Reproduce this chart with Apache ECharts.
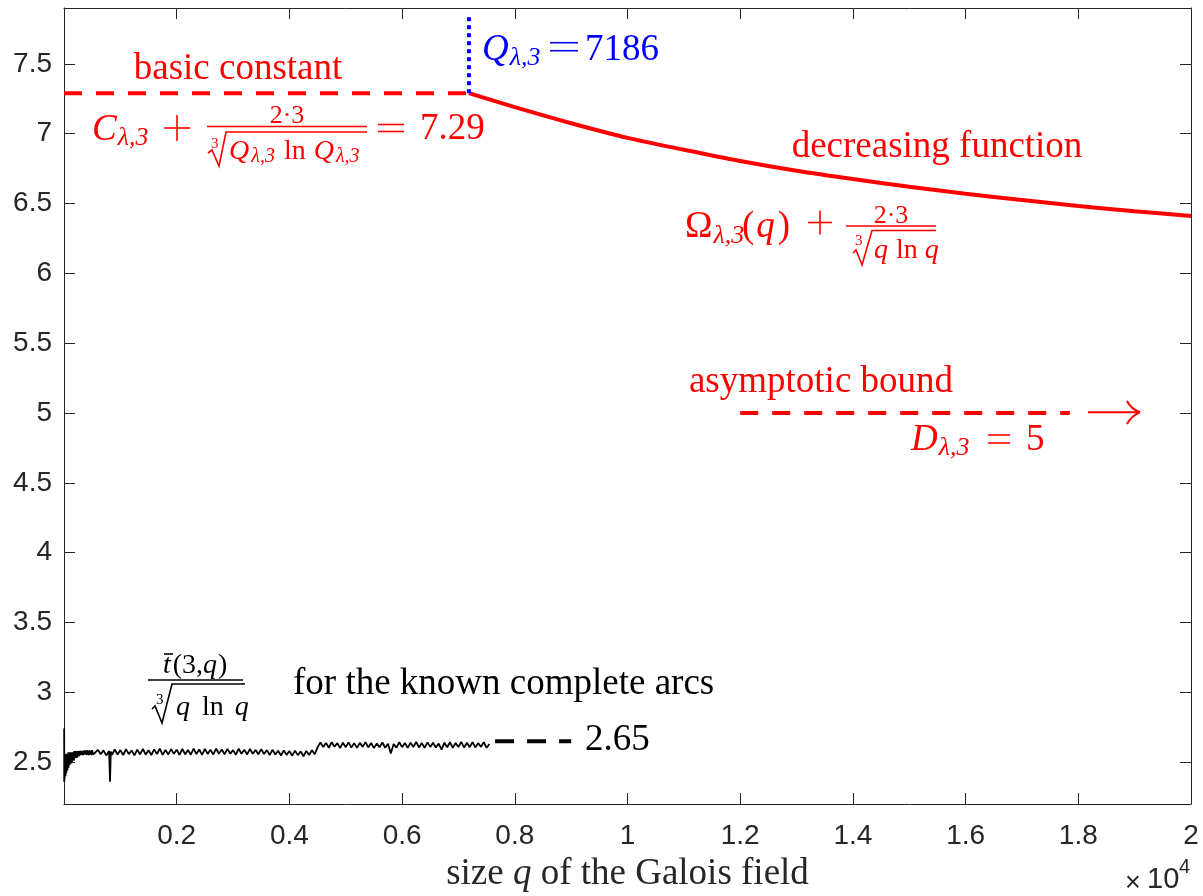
<!DOCTYPE html>
<html>
<head>
<meta charset="utf-8">
<script src="https://cdn.jsdelivr.net/npm/echarts@6/dist/echarts.min.js"></script>
<style>
html, body { margin: 0; padding: 0; background: #fff; }
#main { width: 1203px; height: 896px; }
</style>
</head>
<body>
<div id="main"></div>
<script>
// tick positions (x shown in units of 10^4)
var xTicks = [2000, 4000, 6000, 8000, 10000, 12000, 14000, 16000, 18000, 20000];
var yTicks = [2.5, 3, 3.5, 4, 4.5, 5, 5.5, 6, 6.5, 7, 7.5];

// decreasing function Omega(q) + 2*3/cbrt(q ln q)
var omegaQ = [7186, 8000, 9000, 10000, 11000, 12000, 13000, 14000, 15000, 16000, 17000, 18000, 19000, 20000];
var omegaVal = [7.29, 7.19, 7.075, 6.97, 6.885, 6.805, 6.735, 6.675, 6.62, 6.57, 6.525, 6.482, 6.445, 6.41];

// straight guide lines
var basicQ = [0, 7186];
var basicVal = [7.29, 7.29];
var qLamQ = [7186, 7186];
var qLamVal = [7.29, 7.85];
var asymQ = [12000, 17850];
var asymVal = [5, 5];
var limQ = [7650, 9000];
var limVal = [2.65, 2.65];

// t(3,q)/cbrt(q ln q) for the known complete arcs
var arcData = [
  [3, 2.74], [4, 2.36], [5, 2.55], [7, 2.37], [8, 2.53], [9, 2.38], [11, 2.55], [13, 2.39], [16, 2.54], [17, 2.40],
  [19, 2.56], [23, 2.41], [25, 2.54], [27, 2.40], [29, 2.56], [32, 2.43], [37, 2.55], [41, 2.42], [43, 2.56], [47, 2.44],
  [49, 2.55], [53, 2.45], [59, 2.56], [61, 2.44], [64, 2.55], [67, 2.46], [71, 2.56], [73, 2.47], [79, 2.57], [81, 2.46],
  [83, 2.55], [89, 2.48], [97, 2.57], [101, 2.48], [103, 2.56], [107, 2.49], [109, 2.57], [113, 2.50], [121, 2.56], [125, 2.49],
  [127, 2.57], [131, 2.51], [137, 2.57], [139, 2.50], [149, 2.56], [151, 2.51], [157, 2.57], [163, 2.52], [169, 2.57], [173, 2.51],
  [179, 2.58], [181, 2.52], [191, 2.57], [193, 2.53], [199, 2.58], [211, 2.53], [223, 2.57], [227, 2.53], [233, 2.58], [239, 2.54],
  [241, 2.57], [251, 2.54], [256, 2.58], [263, 2.54], [271, 2.58], [277, 2.55], [283, 2.58], [293, 2.55], [307, 2.58], [313, 2.55],
  [331, 2.58], [343, 2.55], [349, 2.58], [359, 2.555], [367, 2.585], [379, 2.555], [389, 2.58], [401, 2.55], [409, 2.585], [421, 2.555],
  [431, 2.58], [443, 2.55], [449, 2.585], [461, 2.555], [467, 2.58], [487, 2.55], [499, 2.585], [521, 2.555],
  [550, 2.552], [600, 2.588], [650, 2.556], [700, 2.584], [750, 2.548], [800, 2.580], [817, 2.36], [830, 2.575], [850, 2.552],
  [900, 2.590], [950, 2.554], [1000, 2.586], [1050, 2.550], [1100, 2.592], [1150, 2.557], [1200, 2.583], [1250, 2.549], [1300, 2.589],
  [1350, 2.555], [1400, 2.594], [1450, 2.553], [1500, 2.585], [1550, 2.551], [1600, 2.591], [1650, 2.558], [1700, 2.596], [1750, 2.552],
  [1800, 2.587], [1850, 2.555], [1900, 2.593], [1950, 2.559], [2000, 2.589], [2050, 2.551], [2100, 2.595], [2150, 2.556], [2200, 2.587],
  [2250, 2.553], [2300, 2.596], [2350, 2.558], [2400, 2.590], [2450, 2.552], [2500, 2.594], [2550, 2.559], [2600, 2.588], [2650, 2.555],
  [2700, 2.597], [2750, 2.560], [2800, 2.590], [2850, 2.556], [2900, 2.595], [2950, 2.561], [3000, 2.586], [3050, 2.553], [3100, 2.596],
  [3150, 2.559], [3200, 2.589], [3250, 2.555], [3300, 2.594], [3350, 2.560], [3400, 2.587], [3450, 2.556], [3500, 2.593], [3550, 2.558],
  [3600, 2.586], [3650, 2.551], [3700, 2.588], [3750, 2.554], [3800, 2.581], [3850, 2.547], [3900, 2.584], [3950, 2.552], [4000, 2.579],
  [4050, 2.546], [4100, 2.582], [4150, 2.550], [4200, 2.576], [4250, 2.542], [4300, 2.580], [4350, 2.551], [4400, 2.585], [4450, 2.556],
  [4500, 2.606], [4550, 2.640], [4600, 2.608], [4650, 2.637], [4700, 2.603], [4750, 2.642], [4800, 2.610], [4850, 2.636], [4900, 2.601],
  [4950, 2.639], [5000, 2.607], [5050, 2.641], [5100, 2.604], [5150, 2.636], [5200, 2.602], [5250, 2.638], [5300, 2.609], [5350, 2.643],
  [5400, 2.605], [5450, 2.637], [5500, 2.600], [5550, 2.634], [5600, 2.606], [5650, 2.640], [5700, 2.603], [5750, 2.632], [5800, 2.562],
  [5850, 2.629], [5900, 2.604], [5950, 2.642], [6000, 2.607], [6050, 2.637], [6100, 2.602], [6150, 2.639], [6200, 2.608], [6250, 2.644],
  [6300, 2.605], [6350, 2.636], [6400, 2.603], [6450, 2.641], [6500, 2.609], [6550, 2.638], [6600, 2.604], [6650, 2.633], [6700, 2.590],
  [6750, 2.639], [6800, 2.606], [6850, 2.642], [6900, 2.602], [6950, 2.637], [7000, 2.608], [7050, 2.645], [7100, 2.604], [7150, 2.639],
  [7200, 2.607], [7250, 2.643], [7300, 2.605], [7350, 2.636], [7400, 2.609], [7450, 2.642], [7500, 2.603], [7550, 2.630]
];

var RED = '#ff0000', BLUE = '#0000ff', BLACK = '#000000', AX = '#262626';
var SERIF = '"Liberation Serif", "DejaVu Serif", serif';
var SANS = '"Liberation Sans", Arial, sans-serif';

function zip(xs, ys) {
    return xs.map(function (x, i) { return [x, ys[i]]; });
}

// ---- little helpers to typeset the LaTeX-like annotations ----
var ctx = document.createElement('canvas').getContext('2d');
function fontOf(p) { return (p.i ? 'italic ' : '') + p.s + 'px ' + SERIF; }
// a row of text pieces on a common baseline; sp = extra space before a piece
function mrow(x, base, color, parts) {
    var els = [];
    parts.forEach(function (p) {
        x += p.sp || 0;
        ctx.font = fontOf(p);
        els.push({
            type: 'text', x: x, y: base + (p.dy || 0) - 0.2 * p.s, silent: true,
            style: { text: p.t, font: fontOf(p), fill: color, align: 'left', verticalAlign: 'middle' }
        });
        x += ctx.measureText(p.t).width;
    });
    return els;
}
function ctext(cx, base, color, txt, size, italic) {
    return {
        type: 'text', x: cx, y: base - 0.2 * size, silent: true,
        style: { text: txt, font: fontOf({ s: size, i: italic }), fill: color, align: 'center', verticalAlign: 'middle' }
    };
}
function seg(x1, y1, x2, y2, color, w) {
    return { type: 'line', silent: true, shape: { x1: x1, y1: y1, x2: x2, y2: y2 }, style: { stroke: color, lineWidth: w || 1.6 } };
}
function plus(cx, cy, h, color) {
    return [seg(cx - h, cy, cx + h, cy, color), seg(cx, cy - h, cx, cy + h, color)];
}
function equals(x1, x2, ya, yb, color) {
    return [seg(x1, ya, x2, ya, color), seg(x1, yb, x2, yb, color)];
}
function radical(pts, color) {
    return { type: 'polyline', silent: true, shape: { points: pts }, style: { stroke: color, fill: null, lineWidth: 1.6 } };
}

var g = [];
function add(a) { g = g.concat(a); }

// basic constant block
add(ctext(238, 77, RED, 'basic constant', 37));
add(mrow(92, 138, RED, [{ t: 'C', s: 37, i: true }, { t: 'λ,3', s: 26, i: true, dy: 5, sp: 1 }]));
add(plus(177, 128, 13, RED));
add(seg(207, 126.5, 367, 126.5, RED, 1.6));
add(ctext(287, 121, RED, '2·3', 26));
add(radical([[208, 153], [212, 150], [219, 166], [226, 132], [367, 132]], RED));
add(mrow(211, 147, RED, [{ t: '3', s: 15 }]));
add(mrow(229, 157, RED, [{ t: 'Q', s: 28, i: true }, { t: 'λ,3', s: 20, i: true, dy: 4, sp: 2 },
    { t: 'ln', s: 28, sp: 9 }, { t: 'Q', s: 28, i: true, sp: 8 }, { t: 'λ,3', s: 20, i: true, dy: 4, sp: 2 }]));
add(equals(378, 404, 124.5, 131.5, RED));
add(mrow(420, 137, RED, [{ t: '7.29', s: 37 }]));

// Q_{lambda,3} = 7186
add(mrow(482, 58, BLUE, [{ t: 'Q', s: 37, i: true }, { t: 'λ,3', s: 26, i: true, dy: 5, sp: 1 }]));
add(equals(550, 578, 42.7, 50.7, BLUE));
add(mrow(585, 58, BLUE, [{ t: '7186', s: 37 }]));

// decreasing function block
add(ctext(937, 155, RED, 'decreasing function', 37));
add(mrow(685, 235, RED, [{ t: 'Ω', s: 37 }, { t: 'λ,3', s: 26, i: true, dy: 6, sp: 1 }]));
add(mrow(742, 235, RED, [{ t: '(', s: 37 }, { t: 'q', s: 37, i: true, sp: 2 }, { t: ')', s: 37, sp: 3 }]));
add(plus(820, 222.5, 12, RED));
add(seg(846, 226, 936, 226, RED, 1.6));
add(ctext(891, 221, RED, '2·3', 26));
add(radical([[853, 253], [856, 250], [862, 265], [872, 230.5], [936, 230.5]], RED));
add(mrow(855, 244, RED, [{ t: '3', s: 15 }]));
add(mrow(874, 256, RED, [{ t: 'q', s: 28, i: true }, { t: 'ln', s: 28, sp: 8 }, { t: 'q', s: 28, i: true, sp: 7 }]));

// asymptotic bound block
add(ctext(821, 390, RED, 'asymptotic bound', 37));
add(seg(1088, 412.3, 1138, 412.3, RED, 2));
add({ type: 'bezierCurve', silent: true, shape: { x1: 1127, y1: 401, cpx1: 1131, cpy1: 409, x2: 1140, y2: 412.3 }, style: { stroke: RED, fill: null, lineWidth: 2 } });
add({ type: 'bezierCurve', silent: true, shape: { x1: 1127, y1: 424, cpx1: 1131, cpy1: 416, x2: 1140, y2: 412.3 }, style: { stroke: RED, fill: null, lineWidth: 2 } });
add(mrow(911, 448, RED, [{ t: 'D', s: 37, i: true }, { t: 'λ,3', s: 26, i: true, dy: 5, sp: 1 }]));
add(equals(988, 1010, 435, 443, RED));
add(mrow(1026, 448, RED, [{ t: '5', s: 37 }]));

// known complete arcs block
add(mrow(163, 671, BLACK, [{ t: 't', s: 28, i: true }, { t: '(3,', s: 28, sp: 2 }, { t: 'q', s: 28, i: true }, { t: ')', s: 28, sp: 1 }]));
add(seg(164, 654, 173, 654, BLACK, 1.6));
add(seg(148, 680, 243, 680, BLACK, 1.6));
add(radical([[152, 709], [155, 706], [162, 723], [172, 684], [245, 684]], BLACK));
add(mrow(156, 703, BLACK, [{ t: '3', s: 15 }]));
add(mrow(176, 713, BLACK, [{ t: 'q', s: 28, i: true }, { t: 'ln', s: 28, sp: 12 }, { t: 'q', s: 28, i: true, sp: 11 }]));
add(mrow(293, 692, BLACK, [{ t: 'for the known complete arcs', s: 37 }]));
add(mrow(585, 748, BLACK, [{ t: '2.65', s: 37 }]));

// x10^4 exponent marker
g.push({ type: 'text', x: 1125, y: 884, silent: true, style: { text: '×', font: '27px ' + SANS, fill: AX, verticalAlign: 'middle' } });
g.push({ type: 'text', x: 1147, y: 880, silent: true, style: { text: '10', font: '29px ' + SANS, fill: AX, verticalAlign: 'middle' } });
g.push({ type: 'text', x: 1179, y: 867, silent: true, style: { text: '4', font: '20px ' + SANS, fill: AX, verticalAlign: 'middle' } });

var dom = document.getElementById('main');
var myChart = echarts.init(dom, null, { renderer: 'canvas' });
var option = null;

option = {
    animation: false,
    backgroundColor: '#ffffff',
    grid: { left: 64, right: 12, top: 8, bottom: 92, containLabel: false, outerBoundsMode: 'none' },
    xAxis: [{
        type: 'value', min: 0, max: 20000,
        name: '{a|size }{b|q}{a| of the Galois field}',
        nameLocation: 'middle', nameGap: 52,
        nameTextStyle: {
            rich: {
                a: { fontFamily: SERIF, fontSize: 37, color: AX },
                b: { fontFamily: SERIF, fontSize: 37, fontStyle: 'italic', color: AX }
            }
        },
        axisLine: { show: true, onZero: false, lineStyle: { color: AX, width: 1 } },
        axisTick: { inside: true, length: 11, customValues: xTicks, lineStyle: { color: AX } },
        axisLabel: {
            customValues: xTicks, margin: 18, color: AX, fontFamily: SANS, fontSize: 28,
            formatter: function (v) { return String(v / 10000); }
        },
        splitLine: { show: false }
    }, {
        type: 'value', min: 0, max: 20000, position: 'top',
        axisLine: { show: true, onZero: false, lineStyle: { color: AX, width: 1 } },
        axisTick: { inside: true, length: 11, customValues: xTicks, lineStyle: { color: AX } },
        axisLabel: { show: false },
        splitLine: { show: false }
    }],
    yAxis: [{
        type: 'value', min: 2.2, max: 7.9,
        axisLine: { show: true, onZero: false, lineStyle: { color: AX, width: 1 } },
        axisTick: { inside: true, length: 11, customValues: yTicks, lineStyle: { color: AX } },
        axisLabel: { customValues: yTicks, margin: 12, padding: [8, 0, 0, 0], color: AX, fontFamily: SANS, fontSize: 28 },
        splitLine: { show: false }
    }, {
        type: 'value', min: 2.2, max: 7.9, position: 'right',
        axisLine: { show: true, onZero: false, lineStyle: { color: AX, width: 1 } },
        axisTick: { inside: true, length: 11, customValues: yTicks, lineStyle: { color: AX } },
        axisLabel: { show: false },
        splitLine: { show: false }
    }],
    series: [
        {
            name: 'arcs', type: 'line', data: arcData, showSymbol: false,
            lineStyle: { color: BLACK, width: 1.8 }
        },
        {
            name: 'limit', type: 'line', data: zip(limQ, limVal), showSymbol: false,
            lineStyle: { color: BLACK, width: 4, type: [19, 13] }
        },
        {
            name: 'basic', type: 'line', data: zip(basicQ, basicVal), showSymbol: false,
            lineStyle: { color: RED, width: 4, type: [18, 14] }
        },
        {
            name: 'omega', type: 'line', data: zip(omegaQ, omegaVal), showSymbol: false, smooth: 0.3,
            lineStyle: { color: RED, width: 4 }
        },
        {
            name: 'asym', type: 'line', data: zip(asymQ, asymVal), showSymbol: false,
            lineStyle: { color: RED, width: 4, type: [18, 14] }
        },
        {
            name: 'Qlambda', type: 'line', data: zip(qLamQ, qLamVal), showSymbol: false,
            lineStyle: { color: BLUE, width: 4, type: [4, 4] }
        }
    ],
    graphic: g
};
if (option && typeof option === "object") {
    myChart.setOption(option, true);
}
</script>
</body>
</html>
